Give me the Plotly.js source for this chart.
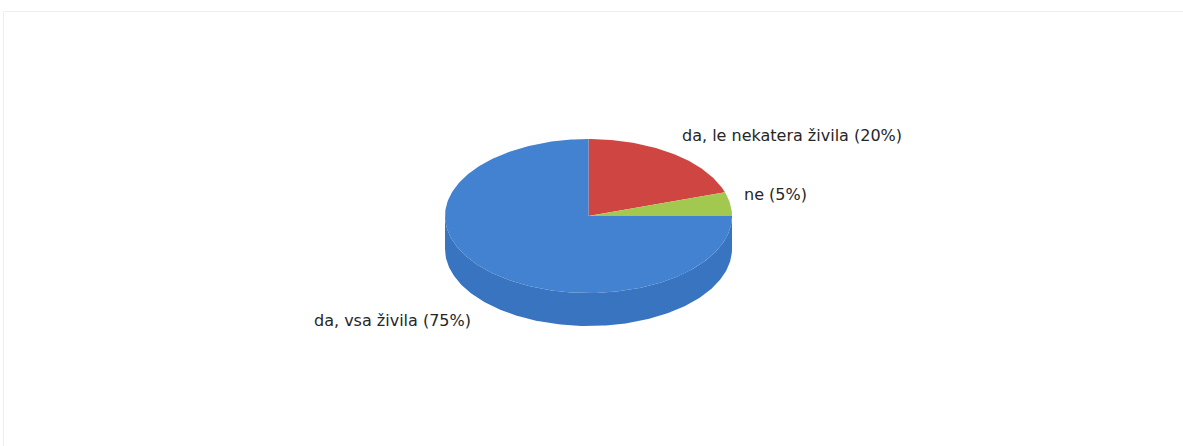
<!DOCTYPE html>
<html>
<head>
<meta charset="utf-8">
<script src="https://cdn.plot.ly/plotly-3.0.1.min.js"></script>
<style>html,body{margin:0;padding:0;background:#fff;}#chart{width:1183px;height:446px;}</style>
</head>
<body>
<div id="chart"></div>
<script>
// ---- data ----
var categories = ["da, le nekatera živila", "ne", "da, vsa živila"];
var values = [20, 5, 75];
var topColors = ["#cf4541", "#a2c84f", "#4282d0"];
var sideColors = ["#a8332f", "#84a83a", "#3874c0"];

// ---- geometry (pixel-like axis units) ----
var W = 1183, H = 446;
var cx = 588.5, cy = 216, rx = 143.5, ry = 77, depth = 33;

function pt(thetaDeg, dy) {
  var t = thetaDeg * Math.PI / 180;
  return [cx + rx * Math.sin(t), cy - ry * Math.cos(t) + (dy || 0)];
}

var total = values.reduce(function (a, b) { return a + b; }, 0);
var traces = [];
var sideTraces = [];
var annotations = [];
var start = 0;
for (var i = 0; i < values.length; i++) {
  var a0 = start, a1 = start + values[i] / total * 360;
  start = a1;
  // top face
  var xs = [cx], ys = [cy];
  var n = Math.max(8, Math.ceil((a1 - a0) / 1));
  for (var k = 0; k <= n; k++) {
    var p = pt(a0 + (a1 - a0) * k / n);
    xs.push(p[0]); ys.push(p[1]);
  }
  xs.push(cx); ys.push(cy);
  traces.push({
    type: "scatter", mode: "lines", x: xs, y: ys, fill: "toself",
    fillcolor: topColors[i], line: {width: 0, color: topColors[i]},
    hoverinfo: "skip", showlegend: false
  });
  // side (visible front half: 90..270)
  var s0 = Math.max(a0, 90), s1 = Math.min(a1, 270);
  if (s1 > s0) {
    var sx = [], sy = [];
    var m = Math.max(8, Math.ceil(s1 - s0));
    for (var k2 = 0; k2 <= m; k2++) {
      var q = pt(s0 + (s1 - s0) * k2 / m);
      sx.push(q[0]); sy.push(q[1]);
    }
    for (var k3 = m; k3 >= 0; k3--) {
      var r = pt(s0 + (s1 - s0) * k3 / m, depth);
      sx.push(r[0]); sy.push(r[1]);
    }
    sideTraces.push({
      type: "scatter", mode: "lines", x: sx, y: sy, fill: "toself",
      fillcolor: sideColors[i], line: {width: 0, color: sideColors[i]},
      hoverinfo: "skip", showlegend: false
    });
  }
  // label
  var mid = (a0 + a1) / 2;
  var t = mid * Math.PI / 180;
  var st = Math.sin(t), ct = Math.cos(t);
  var lx = cx + (rx + 12) * st;
  var ly = cy - (ry + 20) * ct + (ct < 0 ? depth : 0) - 6 * st * Math.abs(st);
  annotations.push({
    x: lx, y: ly, xref: "x", yref: "y",
    text: categories[i] + " (" + values[i] + "%)",
    showarrow: false,
    xanchor: st >= 0 ? "left" : "right",
    xshift: st >= 0 ? 0 : -6,
    yanchor: "middle",
    font: {family: "DejaVu Sans", size: 16, color: "#262626"}
  });
}

var data = sideTraces.concat(traces);

var layout = {
  width: W, height: H,
  margin: {l: 0, r: 0, t: 0, b: 0},
  paper_bgcolor: "#ffffff", plot_bgcolor: "#ffffff",
  xaxis: {range: [0, W], visible: false, fixedrange: true},
  yaxis: {range: [H, 0], visible: false, fixedrange: true},
  showlegend: false,
  annotations: annotations,
  shapes: [
    {type: "line", xref: "x", yref: "y", x0: 3.5, x1: W, y0: 11.5, y1: 11.5, line: {color: "#eeeeee", width: 1}},
    {type: "line", xref: "x", yref: "y", x0: 3.5, x1: 3.5, y0: 11.5, y1: H, line: {color: "#eeeeee", width: 1}}
  ]
};

Plotly.newPlot("chart", data, layout, {displayModeBar: false, staticPlot: true});
</script>
</body>
</html>
